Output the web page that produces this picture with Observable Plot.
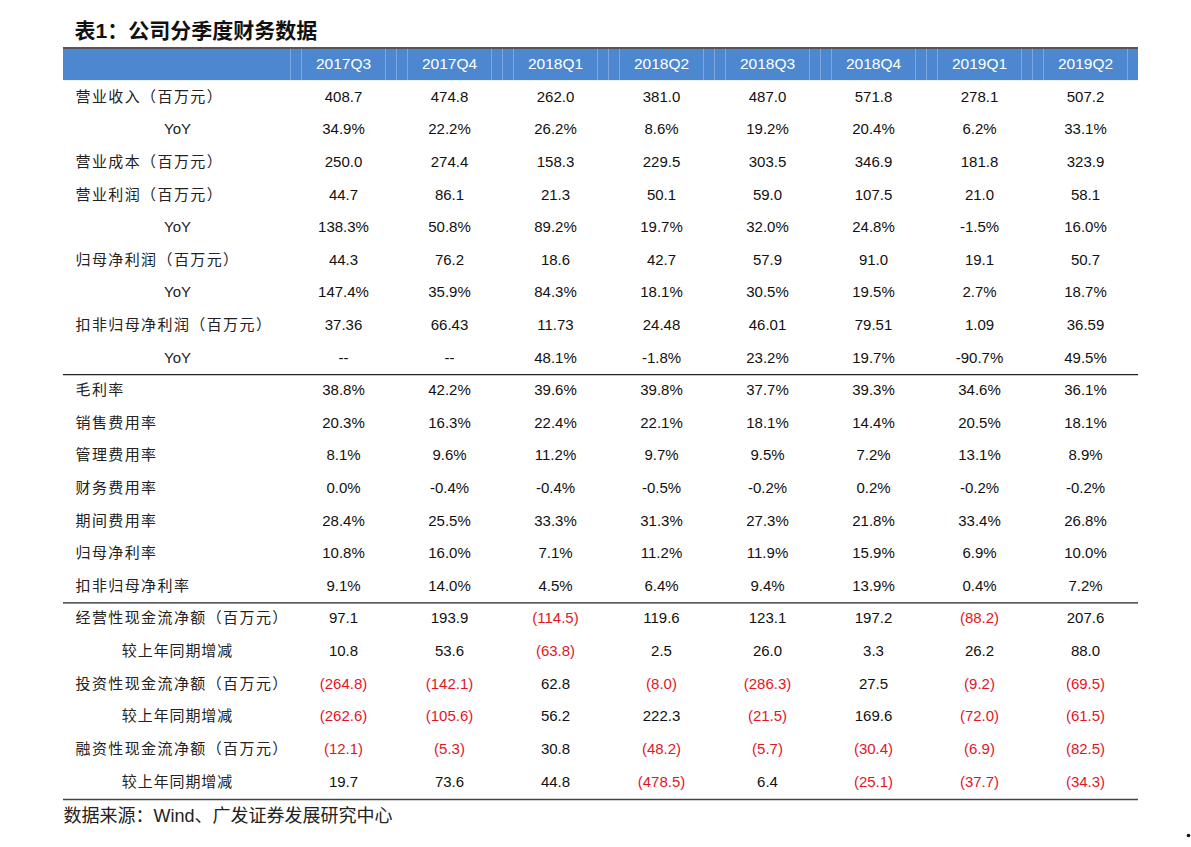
<!DOCTYPE html>
<html><head><meta charset="utf-8">
<script src="https://cdn.jsdelivr.net/npm/d3@7"></script>
<script src="https://cdn.jsdelivr.net/npm/@observablehq/plot@0.6"></script>
<style>html,body{margin:0;padding:0;background:#fff}</style>
</head><body><div id="chart"></div>
<script>
const title = "表1：公司分季度财务数据";
const source = "数据来源：Wind、广发证券发展研究中心";
const quarters = ["2017Q3","2017Q4","2018Q1","2018Q2","2018Q3","2018Q4","2019Q1","2019Q2"];
const rowLabels = [
  "营业收入（百万元）","YoY","营业成本（百万元）","营业利润（百万元）","YoY",
  "归母净利润（百万元）","YoY","扣非归母净利润（百万元）","YoY",
  "毛利率","销售费用率","管理费用率","财务费用率","期间费用率","归母净利率","扣非归母净利率",
  "经营性现金流净额（百万元）","较上年同期增减","投资性现金流净额（百万元）","较上年同期增减",
  "融资性现金流净额（百万元）","较上年同期增减"
];
const rowIndent = [0,1,0,0,1,0,1,0,1, 0,0,0,0,0,0,0, 0,1,0,1,0,1];
const rowFormat = ["n1","pct","n1","n1","pct","n1","pct","n2","pct",
  "pct","pct","pct","pct","pct","pct","pct",
  "paren","paren","paren","paren","paren","paren"];
const revenue      = [408.7,474.8,262.0,381.0,487.0,571.8,278.1,507.2];
const revenueYoY   = [34.9,22.2,26.2,8.6,19.2,20.4,6.2,33.1];
const cost         = [250.0,274.4,158.3,229.5,303.5,346.9,181.8,323.9];
const opProfit     = [44.7,86.1,21.3,50.1,59.0,107.5,21.0,58.1];
const opProfitYoY  = [138.3,50.8,89.2,19.7,32.0,24.8,-1.5,16.0];
const netProfit    = [44.3,76.2,18.6,42.7,57.9,91.0,19.1,50.7];
const netProfitYoY = [147.4,35.9,84.3,18.1,30.5,19.5,2.7,18.7];
const deductedNP   = [37.36,66.43,11.73,24.48,46.01,79.51,1.09,36.59];
const deductedYoY  = [null,null,48.1,-1.8,23.2,19.7,-90.7,49.5];
const grossMargin  = [38.8,42.2,39.6,39.8,37.7,39.3,34.6,36.1];
const sellingRate  = [20.3,16.3,22.4,22.1,18.1,14.4,20.5,18.1];
const adminRate    = [8.1,9.6,11.2,9.7,9.5,7.2,13.1,8.9];
const financeRate  = [0.0,-0.4,-0.4,-0.5,-0.2,0.2,-0.2,-0.2];
const periodRate   = [28.4,25.5,33.3,31.3,27.3,21.8,33.4,26.8];
const netMargin    = [10.8,16.0,7.1,11.2,11.9,15.9,6.9,10.0];
const deductedNM   = [9.1,14.0,4.5,6.4,9.4,13.9,0.4,7.2];
const opCF         = [97.1,193.9,-114.5,119.6,123.1,197.2,-88.2,207.6];
const opCFChg      = [10.8,53.6,-63.8,2.5,26.0,3.3,26.2,88.0];
const invCF        = [-264.8,-142.1,62.8,-8.0,-286.3,27.5,-9.2,-69.5];
const invCFChg     = [-262.6,-105.6,56.2,222.3,-21.5,169.6,-72.0,-61.5];
const finCF        = [-12.1,-5.3,30.8,-48.2,-5.7,-30.4,-6.9,-82.5];
const finCFChg     = [19.7,73.6,44.8,-478.5,6.4,-25.1,-37.7,-34.3];

const series = [revenue,revenueYoY,cost,opProfit,opProfitYoY,netProfit,netProfitYoY,deductedNP,deductedYoY,
  grossMargin,sellingRate,adminRate,financeRate,periodRate,netMargin,deductedNM,
  opCF,opCFChg,invCF,invCFChg,finCF,finCFChg];

const rowIds = rowLabels.map((_, i) => "r" + i);
const yDomain = ["H", ...rowIds];

function fmt(v, f) {
  if (v == null) return "--";
  if (f === "pct") return v.toFixed(1) + "%";
  if (f === "n2") return v.toFixed(2);
  if (f === "paren") return v < 0 ? "(" + (-v).toFixed(1) + ")" : v.toFixed(1);
  return v.toFixed(1);
}
const cells = series.flatMap((vals, r) => vals.map((v, c) => ({
  row: rowIds[r], q: quarters[c], text: fmt(v, rowFormat[r]),
  red: rowFormat[r] === "paren" && v != null && v < 0
})));
const labels = rowLabels.map((t, i) => ({row: rowIds[i], text: t, indent: rowIndent[i]}));

const tableTop = 47.5, tableBottom = 797.5, W = 1191, H = 847;
const step = (tableBottom - tableTop) / yDomain.length;
const font = "'Liberation Sans', Arial, 'Noto Sans CJK SC', sans-serif";

const chart = Plot.plot({
  width: W, height: H,
  marginTop: tableTop, marginBottom: H - tableBottom, marginLeft: 63, marginRight: 53,
  style: {fontFamily: font, background: "#fff"},
  x: {type: "band", domain: quarters, range: [290, 1138], padding: 0, round: false, axis: null},
  y: {type: "band", domain: yDomain, padding: 0, round: false, axis: null},
  marks: [
    Plot.cell(["H"], {y: d => d, fill: "#4d87d0", inset: 0}),
    ...[-53, -42, 42].map(dx => Plot.tickX(quarters, {x: d => d, y: () => "H", dx, stroke: "#7ea7df", strokeWidth: 1})),
    Plot.text(quarters, {x: d => d, y: () => "H", text: d => d, fill: "#fff", fontSize: 15.5}),
    Plot.ruleY(["H"], {y: d => d, dy: -step / 2, stroke: "#555", strokeWidth: 2}),
    Plot.ruleY(["r8", "r15"], {y: d => d, dy: step / 2 + 0.5, stroke: "#222", strokeWidth: 1.2}),
    Plot.ruleY(["r21"], {y: d => d, dy: step / 2 + 1.5, stroke: "#444", strokeWidth: 1.5}),
    Plot.text(labels.filter(d => !d.indent), {y: "row", text: "text", frameAnchor: "left", dx: 12, textAnchor: "start", fontSize: 15, fill: "#222"}),
    Plot.text(labels.filter(d => d.indent), {y: "row", text: "text", frameAnchor: "left", dx: 114, textAnchor: "middle", fontSize: 15, fill: "#222"}),
    Plot.text(cells, {x: "q", y: "row", text: "text", fontSize: 15, fill: d => d.red ? "#e3161f" : "#111"}),
    Plot.text([title], {text: d => d, frameAnchor: "top-left", lineAnchor: "middle", dx: 11, dy: -17, textAnchor: "start", fontSize: 21, fontWeight: "bold", fill: "#111"}),
    Plot.text([source], {text: d => d, frameAnchor: "bottom-left", lineAnchor: "middle", dx: 0, dy: 18.5, textAnchor: "start", fontSize: 18, fill: "#222"}),
    Plot.dot([0], {frameAnchor: "bottom-right", dx: 50, dy: 37.5, r: 1.8, fill: "#111", stroke: "none"})
  ]
});
// widen the Chinese row labels' letter spacing as in the reference
const mainLabels = new Set(rowLabels.filter((_, i) => !rowIndent[i]));
d3.select(chart).selectAll("text").each(function () {
  const t = this.textContent;
  if (mainLabels.has(t)) this.setAttribute("letter-spacing", "1.4px");
  else if (t === "较上年同期增减") this.setAttribute("letter-spacing", "0.9px");
});
document.getElementById("chart").appendChild(chart);
</script>
</body></html>
